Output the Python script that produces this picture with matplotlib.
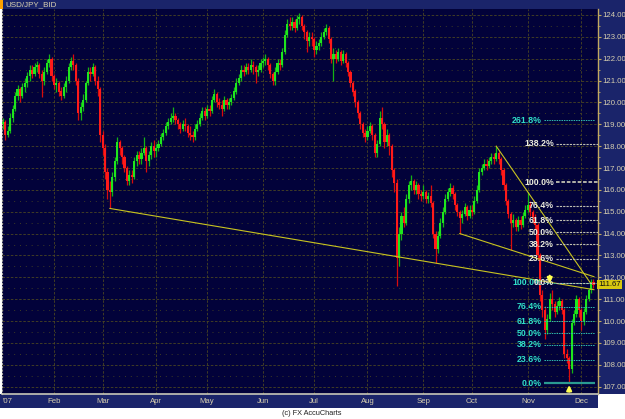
import matplotlib
matplotlib.use('Agg')
import matplotlib.pyplot as plt
import numpy as np
import pandas as pd
from matplotlib.patches import Rectangle
from matplotlib.ticker import FixedLocator, FormatStrFormatter

plt.rcParams['font.family'] = ['Liberation Sans', 'DejaVu Sans']

# ---------------- data (USD/JPY daily, 2007) ----------------
first_open = 119.2
closes = [
    # Jan
    119.0, 119.1, 118.5, 118.7, 119.3, 119.7, 120.3, 120.6, 120.3, 120.7, 120.9, 121.2, 121.5, 121.3, 121.6, 121.7, 121.3, 121.0, 121.4, 121.8, 122.0, 121.2,
    # Feb
    120.8, 120.9, 120.5, 120.3, 120.7, 121.0, 121.6, 121.9, 121.7, 121.0, 119.5, 119.8, 120.1, 120.9, 121.4, 121.3, 121.6, 121.0, 120.6, 118.5,
    # Mar
    117.9, 116.8, 116.0, 115.9, 116.6, 117.3, 118.2, 117.9, 117.5, 117.0, 116.4, 116.7, 116.6, 117.3, 117.6, 117.4, 117.7, 117.9, 117.3, 117.6, 118.0, 117.8,
    # Apr
    117.9, 118.1, 118.4, 118.6, 118.9, 119.1, 119.3, 119.4, 119.2, 119.0, 118.8, 119.0, 118.9, 118.6, 118.5, 118.4, 118.8, 119.0, 119.3, 119.6, 119.4,
    # May
    119.7, 119.6, 120.1, 120.4, 120.0, 119.9, 119.7, 120.1, 119.9, 120.0, 120.2, 120.5, 120.9, 121.1, 121.5, 121.4, 121.6, 121.5, 121.7, 121.6, 121.4, 121.5, 121.8,
    # Jun
    121.9, 122.0, 121.7, 121.3, 121.0, 121.4, 121.8, 121.7, 122.3, 123.1, 123.6, 123.5, 123.7, 123.4, 123.8, 123.9, 123.5, 123.2, 122.8, 123.0, 122.9,
    # Jul
    122.4, 122.6, 122.7, 123.0, 123.2, 123.4, 122.9, 122.0, 122.2, 122.0, 122.3, 121.9, 122.2, 121.8, 121.4, 120.9, 120.5, 120.0, 119.5, 119.0, 118.6, 118.4,
    # Aug
    118.7, 118.9, 118.5, 117.7, 118.1, 119.3, 119.0, 118.2, 118.5, 118.0, 116.9, 116.3, 112.9, 114.0, 114.8, 114.5, 115.6, 116.2, 116.4, 116.0, 116.2, 115.8, 115.7,
    # Sep
    115.9, 115.6, 115.7, 115.4, 114.0, 113.3, 113.9, 114.5, 115.0, 115.6, 115.9, 116.1, 115.8, 115.3, 115.0, 114.7, 114.9, 115.2, 114.8, 115.1,
    # Oct
    115.0, 115.5, 116.0, 116.8, 117.0, 117.2, 117.1, 117.3, 117.5, 117.4, 117.7, 117.4, 116.9, 116.2, 115.5, 114.9, 114.5, 114.6, 114.3, 114.6, 114.4, 114.8, 115.1,
    # Nov
    115.3, 115.0, 114.7, 114.4, 113.0, 111.2, 110.5, 109.6, 110.1, 111.0, 110.8, 110.4, 110.7, 110.9, 110.5, 108.5, 108.3, 107.8, 109.9, 110.3, 111.0, 110.5,
    # Dec
    110.0, 110.4, 111.0, 111.4, 111.8, 111.67,
]
highs = [
    119.4, 119.3, 119.2, 118.9, 119.5, 119.9, 120.5, 120.8, 120.7, 120.9, 121.1, 121.4, 121.7, 121.7, 121.8, 121.9, 121.8, 121.5, 121.6, 122.0, 122.2, 122.1,
    121.3, 121.1, 121.0, 120.7, 120.9, 121.2, 121.8, 122.1, 122.2, 121.8, 121.1, 120.0, 120.4, 121.0, 121.6, 121.6, 121.8, 121.7, 121.2, 120.7,
    118.7, 118.1, 117.0, 116.4, 116.8, 117.5, 118.4, 118.3, 118.0, 117.6, 117.1, 116.9, 116.9, 117.5, 117.8, 117.8, 117.9, 118.4, 118.0, 117.8, 118.2, 118.3,
    118.1, 118.3, 118.6, 118.8, 119.1, 119.3, 119.5, 119.8, 119.5, 119.3, 119.1, 119.2, 119.3, 119.0, 118.9, 118.7, 119.0, 119.2, 119.5, 119.8, 119.8,
    119.9, 119.9, 120.3, 120.6, 120.5, 120.2, 120.1, 120.3, 120.2, 120.2, 120.4, 120.7, 121.1, 121.3, 121.7, 121.7, 121.8, 121.8, 122.0, 121.9, 121.7, 121.7, 122.0,
    122.1, 122.2, 122.1, 121.8, 121.4, 121.6, 122.0, 122.0, 122.5, 123.3, 123.8, 123.9, 123.9, 123.8, 124.0, 124.1, 124.0, 123.6, 123.3, 123.2, 123.2,
    123.0, 122.8, 122.9, 123.2, 123.4, 123.6, 123.5, 123.0, 122.5, 122.4, 122.5, 122.4, 122.4, 122.3, 121.9, 121.5, 121.0, 120.6, 120.1, 119.6, 119.1, 118.8,
    118.9, 119.1, 119.0, 118.6, 118.3, 119.6, 119.8, 119.1, 118.8, 118.6, 118.1, 117.0, 116.5, 114.3, 115.0, 115.2, 115.8, 116.4, 116.7, 116.5, 116.4, 116.3, 116.0,
    116.2, 116.0, 115.9, 116.2, 115.5, 114.1, 114.1, 114.7, 115.2, 115.8, 116.1, 116.3, 116.2, 115.9, 115.4, 115.1, 115.1, 115.4, 115.3, 115.3,
    115.3, 115.7, 116.2, 117.0, 117.2, 117.4, 117.4, 117.5, 117.7, 117.7, 118.0, 117.8, 117.5, 117.0, 116.3, 115.6, 115.0, 114.9, 114.7, 114.8, 114.8, 115.0, 115.3,
    115.9, 115.5, 115.1, 114.9, 114.5, 113.1, 111.4, 110.7, 110.3, 111.3, 111.4, 110.9, 110.9, 111.1, 111.0, 110.6, 108.7, 108.4, 110.1, 110.5, 111.2, 111.1,
    110.6, 110.6, 111.2, 111.5, 111.9, 111.9,
]
lows = [
    118.8, 118.8, 118.3, 118.4, 118.6, 119.1, 119.6, 120.1, 120.0, 120.2, 120.5, 120.7, 121.0, 121.1, 121.2, 121.4, 121.1, 120.25, 120.8, 121.3, 121.6, 121.0,
    120.6, 120.5, 120.3, 120.1, 120.2, 120.5, 120.9, 121.5, 121.5, 120.8, 119.2, 119.2, 119.6, 120.0, 120.8, 121.0, 121.2, 120.8, 120.3, 118.2,
    117.6, 116.5, 115.6, 115.15, 115.7, 116.4, 117.2, 117.6, 117.2, 116.8, 116.2, 116.2, 116.3, 116.5, 117.1, 117.2, 117.2, 117.6, 116.8, 117.1, 117.4, 117.5,
    117.5, 117.8, 118.0, 118.3, 118.5, 118.8, 119.0, 119.1, 119.0, 118.8, 118.6, 118.7, 118.7, 118.4, 118.3, 118.2, 118.3, 118.7, 118.9, 119.2, 119.2,
    119.3, 119.4, 119.5, 120.0, 119.8, 119.7, 119.4, 119.6, 119.7, 119.7, 119.9, 120.1, 120.4, 120.8, 121.0, 121.2, 121.3, 121.3, 121.4, 121.3, 120.9, 121.2, 121.4,
    121.6, 121.7, 121.5, 121.1, 120.8, 120.8, 121.3, 121.5, 121.6, 122.2, 123.0, 123.3, 123.3, 123.2, 123.3, 123.6, 123.3, 122.9, 122.3, 122.6, 122.6,
    122.1, 122.2, 122.4, 122.6, 122.9, 123.1, 122.7, 121.8, 121.0, 121.8, 121.9, 121.7, 121.8, 121.6, 121.2, 120.7, 120.3, 119.8, 119.3, 118.8, 118.4, 118.2,
    118.3, 118.6, 118.3, 117.5, 117.5, 118.0, 118.8, 117.9, 118.0, 117.6, 116.6, 115.9, 111.6, 112.5, 113.7, 114.3, 114.4, 115.4, 116.0, 115.8, 115.8, 115.6, 115.5,
    115.6, 115.4, 115.4, 115.2, 113.8, 112.65, 113.1, 113.8, 114.3, 114.9, 115.5, 115.7, 115.6, 115.1, 114.8, 114.0, 114.5, 114.8, 114.6, 114.7,
    114.8, 114.9, 115.4, 115.9, 116.7, 116.9, 116.9, 117.0, 117.2, 117.2, 117.3, 117.2, 116.7, 116.0, 115.3, 114.7, 113.25, 114.3, 114.1, 114.1, 114.2, 114.3, 114.7,
    115.0, 114.8, 114.5, 114.2, 112.8, 110.9, 110.2, 109.2, 109.4, 110.0, 110.5, 110.2, 110.3, 110.5, 110.3, 108.3, 108.1, 107.15, 107.6, 109.8, 110.2, 110.2,
    109.6, 109.8, 110.3, 110.9, 111.3, 111.5,
]
last_price = 111.67

# Fibonacci retracement / extension sets
fib_lower_base, fib_lower_top = 107.15, 111.75
fib_lower_ratios = [0.0, 0.236, 0.382, 0.5, 0.618, 0.764, 1.0, 2.618]
fib_upper_base, fib_upper_top = 111.75, 116.36
fib_upper_ratios = [0.0, 0.236, 0.382, 0.5, 0.618, 0.764, 1.0, 1.382]

# trend lines: (index, price) anchor pairs, extended to the right
trend_lines = [((46, 115.15), (180, 112.65)),
               ((190, 114.0), (211, 113.25)),
               ((205, 118.0), (218, 115.9))]
trend_end_price_floor = [None, None, 111.75]
trend_end_index = 245.2

# arrows (index, price)
down_arrow = (227, 111.6)
up_arrow = (235, 107.2)

month_labels = ['Feb', 'Mar', 'Apr', 'May', 'Jun', 'Jul', 'Aug', 'Sep', 'Oct', 'Nov', 'Dec']

# ---------------- figure ----------------
W, H = 625, 419
fig = plt.figure(figsize=(W / 100, H / 100), dpi=100, facecolor='white')

band = '#1a246a'
bg = fig.add_axes([0, 0, 1, 1], zorder=0)
bg.set_xlim(0, W)
bg.set_ylim(H, 0)
bg.axis('off')
bg.add_patch(Rectangle((0, 0), W, 9, color=band, lw=0))
bg.add_patch(Rectangle((598, 0), W - 598, 394, color=band, lw=0))
bg.add_patch(Rectangle((0, 394), 598, 14, color=band, lw=0))
bg.add_patch(Rectangle((0, 0), 3, 9, color='#ffa000', lw=0))
bg.text(5, 4.8, 'USD/JPY_BID', color='#d8d0b0', fontsize=5.8, va='center', ha='left')
bg.text(312, 413.5, '(c) FX AccuCharts', color='#202020', fontsize=5.3, va='center', ha='center')
bg.text(2.5, 401.5, "'07", color='#d8d0b0', fontsize=5.6, va='center', ha='left')

L, R, T, B = 2, 598, 9, 394
ax = fig.add_axes([L / W, (H - B) / H, (R - L) / W, (B - T) / H], zorder=1)
ax.set_facecolor('#02023a')

dates = pd.bdate_range('2007-01-02', '2007-12-10')
x = np.arange(1, len(dates) + 1)
c = np.array(closes)
o = np.array([first_open] + closes[:-1])
hi = np.maximum(np.array(highs), np.maximum(o, c))
lo = np.minimum(np.array(lows), np.minimum(o, c))
up = c >= o
cols = np.where(up, '#1ee61e', '#ff1a1a')
wick_cols = np.where(up, '#14b414', '#d80c0c')

ax.vlines(x, lo, hi, colors=wick_cols, lw=0.9, zorder=3)
body_h = np.maximum(np.abs(c - o), 0.05)
ax.bar(x, body_h, bottom=np.minimum(o, c), width=0.88, color=cols, lw=0, zorder=4)

ax.set_xlim(1.605, 246.87)
ax.set_ylim(106.662, 124.274)

# month ticks
mstarts = [i + 1 for i in range(1, len(dates)) if dates[i].month != dates[i - 1].month]
ax.set_xticks(mstarts)
ax.set_xticklabels(month_labels)
ax.tick_params(axis='x', length=0, pad=3.2, labelsize=5.6, labelcolor='#d8d0b0')

# price axis on the right
ax.yaxis.tick_right()
ax.yaxis.set_major_locator(FixedLocator(np.arange(107, 125, 1.0)))
ax.yaxis.set_minor_locator(FixedLocator(np.arange(107.5, 124.5, 1.0)))
ax.yaxis.set_major_formatter(FormatStrFormatter('%.2f'))
ax.tick_params(axis='y', which='major', direction='out', length=2, width=0.8, pad=1,
               labelsize=5.6, labelcolor='#d8d0b0', color='#c0a860')
ax.tick_params(axis='y', which='minor', direction='out', length=1.2, width=0.6, color='#c0a860')

ax.grid(which='major', axis='both', color='#4a4622', ls=(0, (3, 2)), lw=0.6, zorder=1)
ax.grid(which='minor', axis='y', color='#3c3a26', ls=(0, (1, 5)), lw=0.7, zorder=1)
ax.set_axisbelow(True)

ax.spines['top'].set_visible(False)
ax.spines['right'].set_color('#c0a860')
ax.spines['right'].set_linewidth(1.0)
ax.spines['bottom'].set_color('#c8c8b8')
ax.spines['bottom'].set_linewidth(1.2)
ax.spines['left'].set_color('#a8a8a0')
ax.spines['left'].set_linestyle((0, (1, 2)))
ax.spines['left'].set_linewidth(0.8)

# trend lines
xr = ax.get_xlim()[1]
for (p0, p1), floor in zip(trend_lines, trend_end_price_floor):
    slope = (p1[1] - p0[1]) / (p1[0] - p0[0])
    if floor is None:
        x_end = trend_end_index
    else:
        x_end = p0[0] + (floor - p0[1]) / slope
    y_end = p0[1] + slope * (x_end - p0[0])
    ax.plot([p0[0], x_end], [p0[1], y_end], color='#c8c420', lw=0.8, zorder=5)

# fibonacci - lower (cyan)
for r in fib_lower_ratios:
    lvl = fib_lower_base + r * (fib_lower_top - fib_lower_base)
    if r == 0.0:
        ax.hlines(lvl, 224.6, 245.6, color='#2a9a90', lw=1.6, zorder=5)
    else:
        ax.hlines(lvl, 224.6, 245.6, color='#30c0b0', lw=0.7, ls=(0, (1.5, 1)), zorder=5)
    ax.text(223.8, lvl, f'{r * 100:.1f}%', color='#30e0c8', fontsize=6.3, fontweight='bold',
            ha='right', va='center', zorder=6)

# fibonacci - upper (white)
for r in fib_upper_ratios:
    lvl = fib_upper_base + r * (fib_upper_top - fib_upper_base)
    lw = 1.3 if r == 1.0 else 0.8
    ax.hlines(lvl, 229.6, xr, color='#c0c0b0', lw=lw, ls=(0, (2, 1)), zorder=5)
    ax.text(228.8, lvl, f'{r * 100:.1f}%', color='#ececdc', fontsize=6.3, fontweight='bold',
            ha='right', va='center', zorder=6)

# arrows
ax.annotate('', xy=down_arrow, xytext=(down_arrow[0], down_arrow[1] + 0.6),
            arrowprops=dict(arrowstyle='-|>', color='#ffff50', lw=1.6, mutation_scale=7), zorder=7)
ax.annotate('', xy=up_arrow, xytext=(up_arrow[0], up_arrow[1] - 0.55),
            arrowprops=dict(arrowstyle='-|>', color='#ffff50', lw=1.6, mutation_scale=7), zorder=7)

# last price tag
ax.text(1.0, last_price, f'{last_price:.2f}', transform=ax.get_yaxis_transform(),
        ha='left', va='center', fontsize=5.6, color='#101010', clip_on=False,
        bbox=dict(boxstyle='square,pad=0.15', fc='#d8c810', ec='none'), zorder=8)

fig.savefig('out.png', dpi=100, facecolor='white')
